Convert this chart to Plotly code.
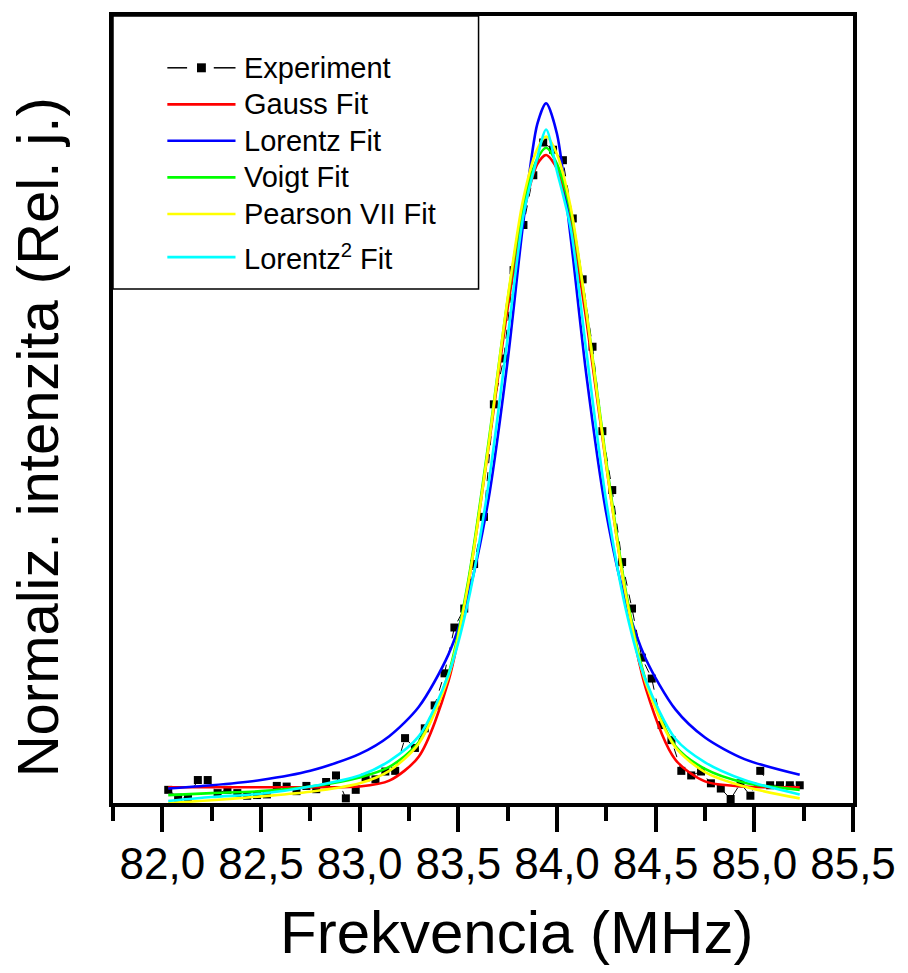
import plotly.graph_objects as go

# ---------------- data ----------------
exp_x = [82.03, 82.08, 82.13, 82.18, 82.23, 82.28, 82.33, 82.38, 82.43, 82.48,
         82.53, 82.58, 82.63, 82.68, 82.73, 82.78, 82.83, 82.88, 82.93, 82.98,
         83.03, 83.08, 83.13, 83.18, 83.23, 83.28, 83.33, 83.38, 83.43, 83.48,
         83.53, 83.58, 83.63, 83.68, 83.73, 83.78, 83.83, 83.88, 83.93, 83.98,
         84.03, 84.08, 84.13, 84.18, 84.23, 84.28, 84.33, 84.38, 84.43, 84.48,
         84.53, 84.58, 84.63, 84.68, 84.73, 84.78, 84.83, 84.88, 84.93, 84.98,
         85.03, 85.08, 85.13, 85.18, 85.23]
exp_y = [0.011, -0.001, -0.001, 0.026, 0.026, 0.006, 0.011, 0.006, 0.002, 0.003,
         0.004, 0.017, 0.016, 0.009, 0.017, 0.012, 0.023, 0.033, -0.002, 0.011,
         0.030, 0.027, 0.039, 0.040, 0.090, 0.075, 0.105, 0.140, 0.189, 0.259,
         0.288, 0.356, 0.428, 0.600, 0.670, 0.805, 0.874, 0.950, 1.000, 0.989,
         0.973, 0.884, 0.791, 0.688, 0.559, 0.469, 0.359, 0.288, 0.213, 0.181,
         0.110, 0.087, 0.040, 0.033, 0.039, 0.021, 0.013, -0.003, 0.021, 0.002,
         0.040, 0.018, 0.018, 0.018, 0.018]

fit_x = [82.03, 82.25, 82.5, 82.75, 83.0, 83.15, 83.3, 83.45, 83.55, 83.65,
         83.75, 83.83, 83.9, 83.945, 84.0, 84.07, 84.15, 84.25, 84.35, 84.45,
         84.6, 84.75, 84.95, 85.23]
gauss_y = [0.015, 0.015, 0.015, 0.015, 0.016, 0.025, 0.062, 0.177, 0.325, 0.528,
           0.747, 0.892, 0.967, 0.981, 0.960, 0.877, 0.726, 0.506, 0.307, 0.166,
           0.057, 0.024, 0.016, 0.015]
lorentz_y = [0.013, 0.018, 0.026, 0.040, 0.066, 0.093, 0.138, 0.218, 0.308, 0.450,
             0.667, 0.880, 1.028, 1.060, 1.013, 0.853, 0.642, 0.433, 0.297, 0.211,
             0.134, 0.091, 0.058, 0.034]
voigt_y = [0.003, 0.006, 0.009, 0.016, 0.030, 0.046, 0.084, 0.188, 0.330, 0.535,
           0.760, 0.905, 0.975, 0.992, 0.967, 0.893, 0.740, 0.512, 0.312, 0.178,
           0.078, 0.043, 0.022, 0.011]
pearson_y = [-0.009, -0.005, 0.001, 0.008, 0.021, 0.040, 0.082, 0.184, 0.325, 0.530,
             0.762, 0.915, 0.990, 1.009, 0.982, 0.900, 0.740, 0.507, 0.307, 0.174,
             0.076, 0.038, 0.016, -0.002]
lorentz2_y = [-0.006, 0.000, 0.005, 0.016, 0.033, 0.055, 0.093, 0.187, 0.299, 0.472,
              0.702, 0.889, 0.977, 1.020, 0.956, 0.868, 0.678, 0.451, 0.285, 0.178,
              0.089, 0.053, 0.026, 0.004]

x_tick_vals = [82.0, 82.5, 83.0, 83.5, 84.0, 84.5, 85.0, 85.5]
x_tick_text = ["82,0", "82,5", "83,0", "83,5", "84,0", "84,5", "85,0", "85,5"]
x_minor_vals = [81.75, 82.25, 82.75, 83.25, 83.75, 84.25, 84.75, 85.25]

legend_names = ["Experiment", "Gauss Fit", "Lorentz Fit", "Voigt Fit",
                "Pearson VII Fit", "Lorentz<sup>2</sup> Fit"]
legend_colors = ["black", "#FF0000", "#0000FF", "#00FF00", "#FFFF00", "#00FFFF"]

FONT = "Arial, Liberation Sans, sans-serif"

# ---------------- figure ----------------
W, H = 908, 973
ML, MR, MT, MB = 113, 46, 13, 170
PW, PH = W - ML - MR, H - MT - MB


def px(x):
    return (x - ML) / PW


def py(y):
    return (H - MB - y) / PH


fig = go.Figure()
fig.add_trace(go.Scatter(x=exp_x, y=exp_y, mode="lines+markers",
                         line=dict(color="black", width=1, dash="dash"),
                         marker=dict(symbol="square", size=8, color="black"),
                         name="Experiment", showlegend=False))
fits = [gauss_y, lorentz_y, voigt_y, pearson_y, lorentz2_y]
for ys, name, col in zip(fits, legend_names[1:], legend_colors[1:]):
    fig.add_trace(go.Scatter(x=fit_x, y=ys, mode="lines",
                             line=dict(color=col, width=2.6, shape="spline", smoothing=0.8),
                             name=name, showlegend=False))

# custom legend box
shapes = [dict(type="rect", xref="paper", yref="paper", x0=0, x1=px(483), y0=py(287), y1=1.0,
               fillcolor="white", line=dict(color="black", width=1.5), layer="above")]
annots = []
item_y = [65, 101.7, 138.3, 175, 211.7, 255]
for i, (nm, col) in enumerate(zip(legend_names, legend_colors)):
    yy = py(item_y[i])
    if i == 0:
        shapes.append(dict(type="line", xref="paper", yref="paper", x0=px(168), x1=px(188), y0=yy, y1=yy,
                           line=dict(color="black", width=1.5), layer="above"))
        shapes.append(dict(type="line", xref="paper", yref="paper", x0=px(215), x1=px(237), y0=yy, y1=yy,
                           line=dict(color="black", width=1.5), layer="above"))
        shapes.append(dict(type="rect", xref="paper", yref="paper", x0=px(198), x1=px(207),
                           y0=py(item_y[i] + 4.5), y1=py(item_y[i] - 4.5),
                           fillcolor="black", line=dict(width=0), layer="above"))
    else:
        shapes.append(dict(type="line", xref="paper", yref="paper", x0=px(168), x1=px(237), y0=yy, y1=yy,
                           line=dict(color=col, width=2.6), layer="above"))
    annots.append(dict(xref="paper", yref="paper", x=px(244), y=yy, text=nm, showarrow=False,
                       xanchor="left", yanchor="middle", font=dict(family=FONT, size=29, color="black")))

annots.append(dict(xref="paper", yref="paper", x=px(521), y=py(933), text="Frekvencia (MHz)",
                   showarrow=False, xanchor="center", yanchor="middle",
                   font=dict(family=FONT, size=60, color="black")))
annots.append(dict(xref="paper", yref="paper", x=px(36), y=py(436), text="Normaliz. intenzita (Rel. j.)",
                   showarrow=False, xanchor="center", yanchor="middle", textangle=-90,
                   font=dict(family=FONT, size=58, color="black")))

fig.update_layout(
    width=W, height=H,
    margin=dict(l=ML, r=MR, t=MT, b=MB, pad=0),
    paper_bgcolor="white", plot_bgcolor="white",
    showlegend=False,
    shapes=shapes, annotations=annots,
    font=dict(family=FONT, color="black"),
    xaxis=dict(range=[81.75, 85.5], showgrid=False, zeroline=False,
               showline=True, linecolor="black", linewidth=3.5, mirror=True,
               tickmode="array", tickvals=x_tick_vals, ticktext=x_tick_text,
               ticks="outside", ticklen=25, tickwidth=3.5, tickcolor="black",
               ticklabelstandoff=-6,
               tickfont=dict(family=FONT, size=44, color="black"),
               minor=dict(tickmode="array", tickvals=x_minor_vals, ticks="outside",
                          ticklen=14, tickwidth=3.5, tickcolor="black", showgrid=False)),
    yaxis=dict(range=[-0.0091, 1.1933], showgrid=False, zeroline=False,
               showline=True, linecolor="black", linewidth=3.5, mirror=True,
               showticklabels=False, ticks=""),
)

fig.write_html("out.html")
